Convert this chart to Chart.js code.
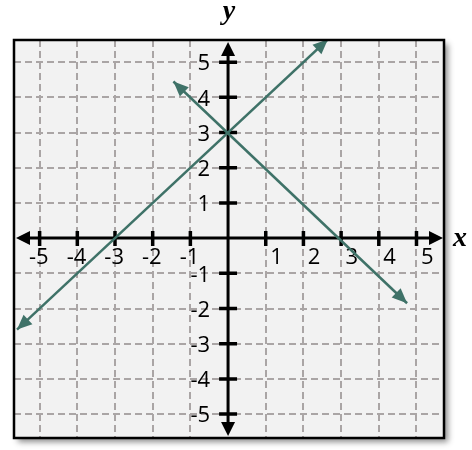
<!DOCTYPE html>
<html>
<head>
<meta charset="utf-8">
<title>Two lines through (0,3)</title>
<script src="https://cdn.jsdelivr.net/npm/chart.js@4.4.1/dist/chart.umd.min.js"></script>
<style>
	html, body { margin: 0; padding: 0; background: #ffffff; }
	#wrap { width: 472px; height: 450px; }
</style>
</head>
<body>
<div id="wrap"><canvas id="grafico" width="472" height="450"></canvas></div>
<script>
// tick values on both axes
const xTicks = [-5, -4, -3, -2, -1, 1, 2, 3, 4, 5];
const yTicks = [-5, -4, -3, -2, -1, 1, 2, 3, 4, 5];
const xLimits = [-5.68, 5.73];
const yLimits = [-5.68, 5.63];

// y = x + 3 (arrow tips)
const lineAX = [-5.6, 2.65];
const lineAY = [-2.6, 5.65];
// y = -x + 3 (arrow tips)
const lineBX = [-1.45, 4.75];
const lineBY = [4.45, -1.85];

const lineColor = '#3f7268';

function pts(xs, ys) {
	return xs.map(function (x, i) { return { x: x, y: ys[i] }; });
}

function arrow(ctx, x1, y1, x2, y2, len, half, color) {
	// triangle with tip at (x2,y2) pointing away from (x1,y1)
	var a = Math.atan2(y2 - y1, x2 - x1);
	ctx.save();
	ctx.fillStyle = color;
	ctx.beginPath();
	ctx.moveTo(x2, y2);
	ctx.lineTo(x2 - len * Math.cos(a) + half * Math.sin(a), y2 - len * Math.sin(a) - half * Math.cos(a));
	ctx.lineTo(x2 - len * Math.cos(a) - half * Math.sin(a), y2 - len * Math.sin(a) + half * Math.cos(a));
	ctx.closePath();
	ctx.fill();
	ctx.restore();
}

// panel, axes, ticks, labels and arrowheads
const planoPlugin = {
	id: 'plano',
	beforeDraw: function (chart) {
		var ctx = chart.ctx, a = chart.chartArea;
		ctx.save();
		ctx.shadowColor = 'rgba(0,0,0,0.45)';
		ctx.shadowBlur = 6;
		ctx.shadowOffsetX = 4;
		ctx.shadowOffsetY = 4;
		ctx.fillStyle = '#f2f2f2';
		ctx.fillRect(a.left, a.top, a.right - a.left, a.bottom - a.top);
		ctx.restore();
	},
	beforeDatasetsDraw: function (chart) {
		var ctx = chart.ctx, a = chart.chartArea;
		var sx = chart.scales.x, sy = chart.scales.y;
		var x0 = sx.getPixelForValue(0), y0 = sy.getPixelForValue(0);
		ctx.save();
		ctx.strokeStyle = '#000';
		ctx.lineWidth = 3;
		ctx.beginPath();
		ctx.moveTo(a.left + 10, y0); ctx.lineTo(a.right - 10, y0);
		ctx.moveTo(x0, a.top + 10); ctx.lineTo(x0, a.bottom - 10);
		ctx.stroke();
		arrow(ctx, x0, y0, a.left + 2, y0, 14, 7, '#000');
		arrow(ctx, x0, y0, a.right - 1, y0, 14, 7, '#000');
		arrow(ctx, x0, y0, x0, a.top + 2, 14, 7, '#000');
		arrow(ctx, x0, y0, x0, a.bottom - 2, 14, 7, '#000');
		// tick marks
		ctx.lineWidth = 3.5;
		ctx.beginPath();
		xTicks.forEach(function (v) {
			var px = sx.getPixelForValue(v);
			ctx.moveTo(px, y0 - 7); ctx.lineTo(px, y0 + 8);
		});
		yTicks.forEach(function (v) {
			var py = sy.getPixelForValue(v);
			ctx.moveTo(x0 - 9, py); ctx.lineTo(x0 + 9, py);
		});
		ctx.stroke();
		// tick labels
		ctx.fillStyle = '#000';
		ctx.font = '22px "Open Sans", sans-serif';
		ctx.textAlign = 'right';
		ctx.textBaseline = 'middle';
		xTicks.forEach(function (v) {
			var px = sx.getPixelForValue(v);
			ctx.fillText(v < 0 ? '-' + Math.abs(v) : String(v), px + (v < 0 ? 9 : 17), y0 + 20);
		});
		yTicks.forEach(function (v) {
			var py = sy.getPixelForValue(v);
			ctx.fillText(v < 0 ? '-' + Math.abs(v) : String(v), x0 - 18, py + 2);
		});
		// axis names
		ctx.font = 'italic bold 28px "Liberation Serif", serif';
		ctx.textAlign = 'center';
		ctx.fillText('y', x0 + 1, 12);
		ctx.fillText('x', a.right + 16, y0 + 1);
		ctx.restore();
	},
	afterDatasetsDraw: function (chart) {
		var ctx = chart.ctx, a = chart.chartArea;
		chart.data.datasets.forEach(function (ds, i) {
			var p = chart.getDatasetMeta(i).data;
			arrow(ctx, p[1].x, p[1].y, p[0].x, p[0].y, 15, 6.5, lineColor);
			arrow(ctx, p[0].x, p[0].y, p[1].x, p[1].y, 15, 6.5, lineColor);
		});
		ctx.save();
		ctx.strokeStyle = '#000';
		ctx.lineWidth = 2.5;
		ctx.strokeRect(a.left, a.top, a.right - a.left, a.bottom - a.top);
		ctx.restore();
	}
};

new Chart(document.getElementById('grafico'), {
	type: 'scatter',
	data: {
		datasets: [
			{ label: 'y = x + 3', data: pts(lineAX, lineAY), showLine: true, borderColor: lineColor, borderWidth: 2.5, pointRadius: 0 },
			{ label: 'y = -x + 3', data: pts(lineBX, lineBY), showLine: true, borderColor: lineColor, borderWidth: 2.5, pointRadius: 0 }
		]
	},
	options: {
		responsive: false,
		animation: false,
		events: [],
		layout: { padding: { left: 14, top: 40, right: 28, bottom: 12 } },
		plugins: { legend: { display: false }, tooltip: { enabled: false }, title: { display: false } },
		scales: {
			x: {
				type: 'linear', min: xLimits[0], max: xLimits[1],
				afterBuildTicks: function (s) { s.ticks = xTicks.map(function (v) { return { value: v }; }); },
				ticks: { display: false },
				grid: { color: '#aaa5a5', lineWidth: 2, drawTicks: false },
				border: { display: false, dash: [7, 4] }
			},
			y: {
				type: 'linear', min: yLimits[0], max: yLimits[1],
				afterBuildTicks: function (s) { s.ticks = yTicks.map(function (v) { return { value: v }; }); },
				ticks: { display: false },
				grid: { color: '#aaa5a5', lineWidth: 2, drawTicks: false },
				border: { display: false, dash: [7, 4] }
			}
		}
	},
	plugins: [planoPlugin]
});
</script>
</body>
</html>
